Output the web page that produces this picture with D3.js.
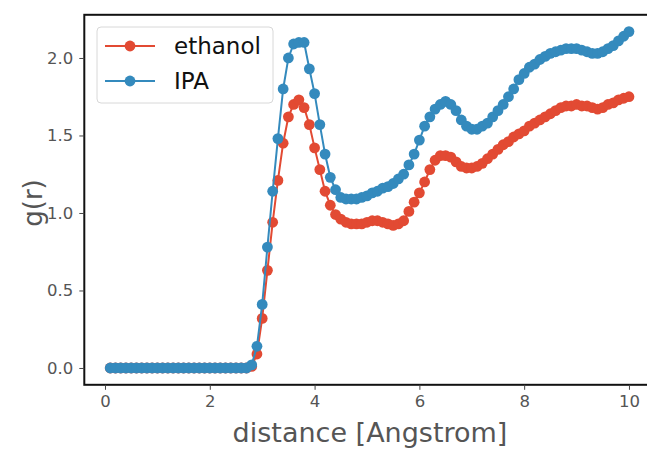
<!DOCTYPE html>
<html>
<head>
<meta charset="utf-8">
<script src="https://cdn.jsdelivr.net/npm/d3@7"></script>
<style>
  body { margin: 0; background: #fff; }
  svg { font-family: "DejaVu Sans", sans-serif; }
</style>
</head>
<body>
<div id="container"></div>
<script>
/* DATA */
const distance = [
  0.1, 0.2, 0.3, 0.4, 0.5, 0.6, 0.7, 0.8, 0.9, 1.0,
  1.1, 1.2, 1.3, 1.4, 1.5, 1.6, 1.7, 1.8, 1.9, 2.0,
  2.1, 2.2, 2.3, 2.4, 2.5, 2.6, 2.7, 2.8, 2.9, 3.0,
  3.1, 3.2, 3.3, 3.4, 3.5, 3.6, 3.7, 3.8, 3.9, 4.0,
  4.1, 4.2, 4.3, 4.4, 4.5, 4.6, 4.7, 4.8, 4.9, 5.0,
  5.1, 5.2, 5.3, 5.4, 5.5, 5.6, 5.7, 5.8, 5.9, 6.0,
  6.1, 6.2, 6.3, 6.4, 6.5, 6.6, 6.7, 6.8, 6.9, 7.0,
  7.1, 7.2, 7.3, 7.4, 7.5, 7.6, 7.7, 7.8, 7.9, 8.0,
  8.1, 8.2, 8.3, 8.4, 8.5, 8.6, 8.7, 8.8, 8.9, 9.0,
  9.1, 9.2, 9.3, 9.4, 9.5, 9.6, 9.7, 9.8, 9.9, 10.0
];
const ethanol = [
  0, 0, 0, 0, 0, 0, 0, 0, 0, 0,
  0, 0, 0, 0, 0, 0, 0, 0, 0, 0,
  0, 0, 0, 0, 0, 0, 0, 0.01, 0.09, 0.32,
  0.63, 0.94, 1.21, 1.45, 1.62, 1.70, 1.73, 1.68, 1.57, 1.42,
  1.28, 1.14, 1.05, 0.99, 0.96, 0.94, 0.93, 0.93, 0.93, 0.94,
  0.95, 0.95, 0.94, 0.93, 0.92, 0.93, 0.95, 1.01, 1.07, 1.13,
  1.20, 1.28, 1.34, 1.37, 1.37, 1.36, 1.33, 1.30, 1.29, 1.29,
  1.30, 1.32, 1.35, 1.38, 1.41, 1.44, 1.46, 1.49, 1.51, 1.53,
  1.56, 1.58, 1.60, 1.62, 1.64, 1.66, 1.68, 1.69, 1.69, 1.70,
  1.69, 1.69, 1.68, 1.67, 1.68, 1.70, 1.71, 1.73, 1.74, 1.75
];
const ipa = [
  0, 0, 0, 0, 0, 0, 0, 0, 0, 0,
  0, 0, 0, 0, 0, 0, 0, 0, 0, 0,
  0, 0, 0, 0, 0, 0, 0, 0.02, 0.14, 0.41,
  0.78, 1.14, 1.48, 1.80, 2.00, 2.09, 2.10, 2.10, 1.93, 1.77,
  1.57, 1.38, 1.23, 1.15, 1.10, 1.09, 1.09, 1.09, 1.10, 1.11,
  1.13, 1.14, 1.16, 1.17, 1.19, 1.22, 1.25, 1.31, 1.38, 1.47,
  1.56, 1.62, 1.67, 1.70, 1.72, 1.70, 1.66, 1.60, 1.56, 1.54,
  1.54, 1.56, 1.58, 1.62, 1.66, 1.70, 1.75, 1.80, 1.86, 1.90,
  1.94, 1.96, 1.99, 2.01, 2.03, 2.04, 2.05, 2.06, 2.06, 2.06,
  2.05, 2.04, 2.03, 2.03, 2.04, 2.06, 2.08, 2.11, 2.14, 2.17
];
const xTicks = [0, 2, 4, 6, 8, 10];
const yTicks = [0.0, 0.5, 1.0, 1.5, 2.0];

const series = [
  {name: "ethanol", values: ethanol, color: "#E24A33"},
  {name: "IPA", values: ipa, color: "#348ABD"}
];

/* SVG */
const W = 647, H = 449;
const svg = d3.select("#container")
  .append("svg")
    .attr("width", W)
    .attr("height", H);

/* SCALES */
const x = d3.scaleLinear()
  .domain([-0.395, 10.495])
  .range([84.3, 654.9]);
const y = d3.scaleLinear()
  .domain([-0.1085, 2.2785])
  .range([384.8, 14.8]);

/* FRAME */
svg.append("rect")
  .attr("x", x.range()[0])
  .attr("y", y.range()[1])
  .attr("width", x.range()[1] - x.range()[0])
  .attr("height", y.range()[0] - y.range()[1])
  .attr("fill", "none")
  .attr("stroke", "#111")
  .attr("stroke-width", 2);

/* AXES */
const xAxis = svg.append("g")
  .attr("transform", "translate(0," + y.range()[0] + ")")
  .call(d3.axisBottom(x).tickValues(xTicks).tickFormat(d3.format("d")).tickSize(5).tickPadding(5));
const yAxis = svg.append("g")
  .attr("transform", "translate(" + x.range()[0] + ",0)")
  .call(d3.axisLeft(y).tickValues(yTicks).tickFormat(d3.format(".1f")).tickSize(5).tickPadding(6));

[xAxis, yAxis].forEach(g => {
  g.select(".domain").remove();
  g.selectAll(".tick line").attr("stroke", "#444").attr("stroke-width", 1);
  g.selectAll(".tick text")
    .attr("fill", "#555")
    .style("font-size", "16.5px")
    .style("font-family", "DejaVu Sans");
});

/* LINES + MARKERS */
const line = d3.line()
  .x((d, i) => x(distance[i]))
  .y(d => y(d));

series.forEach(s => {
  const g = svg.append("g");
  g.append("path")
    .datum(s.values)
    .attr("fill", "none")
    .attr("stroke", s.color)
    .attr("stroke-width", 2)
    .attr("d", line);
  g.selectAll("circle")
    .data(s.values)
    .join("circle")
    .attr("cx", (d, i) => x(distance[i]))
    .attr("cy", d => y(d))
    .attr("r", 5.4)
    .attr("fill", s.color);
});

/* AXIS LABELS */
svg.append("text")
  .attr("x", 370)
  .attr("y", 442)
  .attr("text-anchor", "middle")
  .attr("fill", "#555")
  .style("font-size", "27px")
  .text("distance [Angstrom]");

svg.append("text")
  .attr("transform", "translate(42,203) rotate(-90)")
  .attr("text-anchor", "middle")
  .attr("fill", "#555")
  .style("font-size", "26px")
  .text("g(r)");

/* LEGEND */
const legend = svg.append("g");
legend.append("rect")
  .attr("x", 97)
  .attr("y", 27)
  .attr("width", 176)
  .attr("height", 76)
  .attr("rx", 4)
  .attr("fill", "#fff")
  .attr("fill-opacity", 0.8)
  .attr("stroke", "#d8d8d8");

series.forEach((s, i) => {
  const ly = 46 + i * 35;
  legend.append("line")
    .attr("x1", 105).attr("x2", 155)
    .attr("y1", ly).attr("y2", ly)
    .attr("stroke", s.color)
    .attr("stroke-width", 2);
  legend.append("circle")
    .attr("cx", 130).attr("cy", ly)
    .attr("r", 5.4)
    .attr("fill", s.color);
  legend.append("text")
    .attr("x", 174)
    .attr("y", ly + 8)
    .attr("fill", "#111")
    .style("font-size", "23px")
    .text(s.name);
});
</script>
</body>
</html>
